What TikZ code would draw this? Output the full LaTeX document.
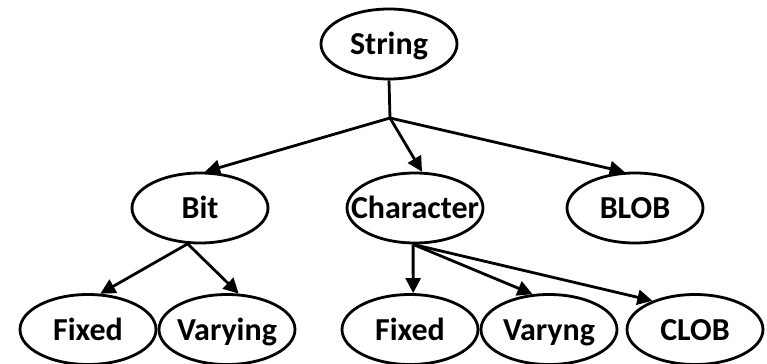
\documentclass[tikz,border=0pt]{standalone}
\usepackage{fontspec}
\setmainfont{Carlito}
\usetikzlibrary{shapes.geometric,arrows.meta}
% label of zero width, so every oval keeps the same size
\newcommand{\ovtext}[1]{\makebox[0pt]{#1}}
\tikzset{
  oval/.style={draw, ellipse, line width=1.4pt, inner sep=0pt,
    minimum width=68pt, minimum height=35pt,
    text height=11pt, text depth=0.4pt,
    font=\bfseries\fontsize{16}{18}\selectfont},
  link/.style={line width=1.4pt},
  arrowlink/.style={link, -{Triangle[length=7.5pt,width=7.5pt]}}
}
\begin{document}
\begin{tikzpicture}[x=0.5pt, y=-0.5pt]
  \useasboundingbox (0,0) rectangle (767,364);
  % top level
  \node[oval] (string) at (389,44) {\ovtext{String}};
  \coordinate (j) at (390,118);
  % second level
  \node[oval] (bit)  at (200,208) {\ovtext{Bit}};
  \node[oval] (char) at (415,208) {\ovtext{Character}};
  \node[oval] (blob) at (635,208) {\ovtext{BLOB}};
  % third level
  \node[oval] (fixA) at (88,329.5)  {\ovtext{Fixed}};
  \node[oval] (vary) at (227,329.5) {\ovtext{Varying}};
  \node[oval] (fixB) at (410,329.5) {\ovtext{Fixed}};
  \node[oval] (varB) at (549,329.5) {\ovtext{Varyng}};
  \node[oval] (clob) at (695,329.5) {\ovtext{CLOB}};
  % connectors
  \draw[link] (string.south) -- (j);
  \draw[arrowlink] (j) -- (bit.82);
  \draw[arrowlink] (j) -- (char.79);
  \draw[arrowlink] (j) -- (blob.106);
  \draw[arrowlink] (bit.251) -- (fixA.71);
  \draw[arrowlink] (bit.251) -- (vary.72);
  \draw[arrowlink] (char.267) -- (fixB.85);
  \draw[arrowlink] (char.267) -- (varB.115);
  \draw[arrowlink] (char.267) -- (clob.146);
\end{tikzpicture}
\end{document}
